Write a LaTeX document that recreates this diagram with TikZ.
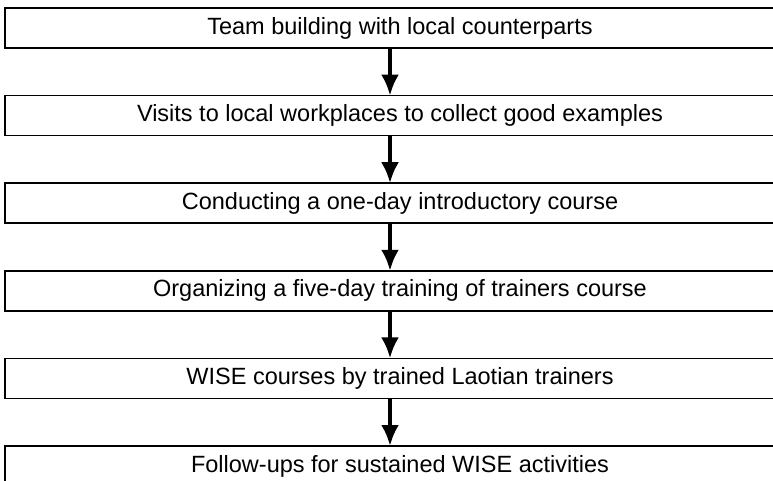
\documentclass[tikz,border=0pt]{standalone}
\usepackage{fontspec}
\setmainfont{Liberation Sans}
\usetikzlibrary{positioning}
\usetikzlibrary{arrows.meta}

\begin{document}
\begin{tikzpicture}[x=1pt,y=-1pt,
    stepbox/.style={draw,line width=1.6pt,minimum width=790pt,minimum height=40pt,
                    inner sep=0pt,outer sep=0pt,font=\fontsize{23.5}{26}\selectfont},
    flow/.style={line width=4pt,-{Latex[length=21pt,width=18pt]}},
    node distance=47.6pt]
    \clip (0,0) rectangle (773,480);
    \node[stepbox] (team) at (400,28) {Team building with local counterparts};
    \node[stepbox,below=of team] (visits) {Visits to local workplaces to collect good examples};
    \node[stepbox,below=of visits] (intro) {Conducting a one-day introductory course};
    \node[stepbox,below=of intro] (tot) {Organizing a five-day training of trainers course};
    \node[stepbox,below=of tot] (wise) {WISE courses by trained Laotian trainers};
    \node[stepbox,below=of wise] (follow) {Follow-ups for sustained WISE activities};
    % arrows sit a little left of the box centre
    \coordinate (ax) at (390,0);
    \foreach \a/\b in {team/visits,visits/intro,intro/tot,tot/wise,wise/follow}
        \draw[flow] (\a.south -| ax) -- (\b.north -| ax);
\end{tikzpicture}
\end{document}
